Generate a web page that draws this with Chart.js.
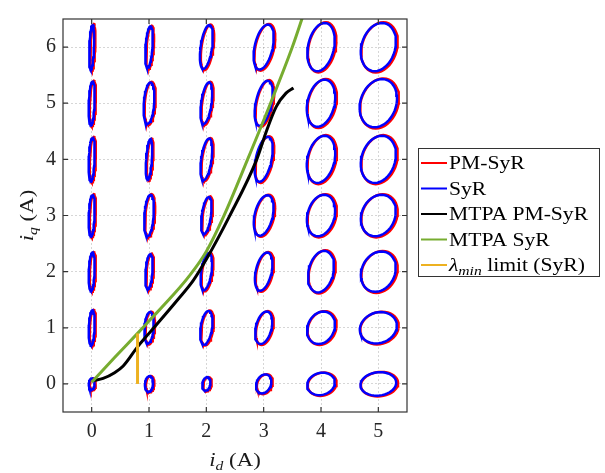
<!DOCTYPE html>
<html>
<head>
<meta charset="utf-8">
<script src="https://cdn.jsdelivr.net/npm/chart.js@4"></script>
<style>
  html, body { margin: 0; padding: 0; background: #fff; }
  #wrap { width: 605px; height: 473px; }
</style>
</head>
<body>
<div id="wrap"><canvas id="chart"></canvas></div>
<script>
// grid of operating points (A)
const idGrid = [0, 1, 2, 3, 4, 5];
const iqGrid = [0, 1, 2, 3, 4, 5, 6];
const xTicks = [0, 1, 2, 3, 4, 5];
const yTicks = [0, 1, 2, 3, 4, 5, 6];

// half-width / half-height of each current loop (rows = iq, cols = id)
const loopRx = [
  [0.05, 0.07, 0.07, 0.13, 0.24, 0.31],
  [0.05, 0.08, 0.10, 0.14, 0.24, 0.32],
  [0.05, 0.06, 0.09, 0.14, 0.22, 0.30],
  [0.05, 0.08, 0.08, 0.16, 0.24, 0.30],
  [0.05, 0.05, 0.09, 0.14, 0.24, 0.30],
  [0.05, 0.09, 0.09, 0.14, 0.24, 0.32],
  [0.04, 0.06, 0.10, 0.16, 0.23, 0.30]
];
const loopRy = [
  [0.10, 0.14, 0.12, 0.17, 0.20, 0.21],
  [0.31, 0.28, 0.30, 0.29, 0.29, 0.28],
  [0.34, 0.31, 0.33, 0.34, 0.37, 0.36],
  [0.37, 0.37, 0.33, 0.36, 0.37, 0.37],
  [0.39, 0.36, 0.37, 0.40, 0.42, 0.42],
  [0.39, 0.37, 0.37, 0.40, 0.42, 0.43],
  [0.40, 0.37, 0.39, 0.40, 0.43, 0.43]
];
// how far the loops lean to the right (x shift per unit of y), per id column
const loopLean = [0.04, 0.07, 0.13, 0.18, 0.15, 0.15];

// MTPA trajectories
const mtpaPmId = [0.03, 0.2, 0.4, 0.55, 0.8, 1.0, 1.5, 1.77, 2.0, 2.4, 2.88, 3.04, 3.22, 3.39, 3.52];
const mtpaPmIq = [0.06, 0.1, 0.2, 0.32, 0.66, 0.9, 1.5, 1.84, 2.22, 2.98, 4.0, 4.48, 4.94, 5.18, 5.27];
const mtpaSyrId = [0.0, 0.4, 0.8, 1.0, 1.4, 1.7, 2.0, 2.3, 2.72, 3.12, 3.5, 3.7];
const mtpaSyrIq = [0.03, 0.47, 0.9, 1.12, 1.56, 1.92, 2.36, 2.98, 4.0, 5.0, 6.0, 6.6];
// lambda_min limit for SyR
const lamId = [0.8, 0.8];
const lamIq = [0.0, 0.9];

function loopTrace(scale, dx, dy) {
    const pts = [];
    iqGrid.forEach((iq, r) => {
        idGrid.forEach((id, c) => {
            const rx = loopRx[r][c] * scale, ry = loopRy[r][c] * scale;
            for (let k = 0; k <= 40; k++) {
                const t = 2 * Math.PI * k / 40;
                pts.push({
                    x: id + dx + rx * Math.cos(t) + loopLean[c] * ry * Math.sin(t),
                    y: iq + dy + ry * Math.sin(t)
                });
            }
            pts.push({ x: id, y: null });
        });
    });
    return pts;
}

const toXY = (xs, ys) => xs.map((x, i) => ({ x: x, y: ys[i] }));

const SERIF = "'Liberation Serif', 'Times New Roman', serif";
const STRETCH = 1.2;

function drawRich(ctx, parts, x, y, align) {
    let w = 0;
    parts.forEach(p => { ctx.font = p.font; w += ctx.measureText(p.t).width; });
    ctx.save();
    ctx.translate(x, y);
    ctx.scale(STRETCH, 1);
    let cx = align === 'center' ? -w / 2 : 0;
    ctx.textAlign = 'left';
    ctx.textBaseline = 'alphabetic';
    parts.forEach(p => {
        ctx.font = p.font;
        ctx.fillText(p.t, cx, p.dy || 0);
        cx += ctx.measureText(p.t).width;
    });
    ctx.restore();
}

const it = size => 'italic ' + size + 'px ' + SERIF;
const rm = size => size + 'px ' + SERIF;

const framePlugin = {
    id: 'frame',
    afterDatasetsDraw(chart) {
        const { ctx, chartArea: a, scales } = chart;
        ctx.save();
        ctx.strokeStyle = '#333333';
        ctx.lineWidth = 1.2;
        ctx.strokeRect(a.left, a.top, a.right - a.left, a.bottom - a.top);
        ctx.beginPath();
        xTicks.forEach(v => {
            const px = scales.x.getPixelForValue(v);
            ctx.moveTo(px, a.bottom); ctx.lineTo(px, a.bottom - 5);
            ctx.moveTo(px, a.top); ctx.lineTo(px, a.top + 5);
        });
        yTicks.forEach(v => {
            const py = scales.y.getPixelForValue(v);
            ctx.moveTo(a.left, py); ctx.lineTo(a.left + 5, py);
            ctx.moveTo(a.right, py); ctx.lineTo(a.right - 5, py);
        });
        ctx.stroke();
        ctx.restore();
    },
    afterDraw(chart) {
        const { ctx, chartArea: a } = chart;
        ctx.save();
        ctx.fillStyle = '#1a1a1a';
        // axis titles
        drawRich(ctx, [
            { t: 'i', font: it(19) },
            { t: 'd', font: it(13), dy: 4 },
            { t: ' (A)', font: rm(19) }
        ], (a.left + a.right) / 2, 466, 'center');
        ctx.save();
        ctx.translate(33, (a.top + a.bottom) / 2);
        ctx.rotate(-Math.PI / 2);
        drawRich(ctx, [
            { t: 'i', font: it(19) },
            { t: 'q', font: it(13), dy: 4 },
            { t: ' (A)', font: rm(19) }
        ], 0, 0, 'center');
        ctx.restore();

        // legend
        const bx = 418.5, by = 148.5, bw = 181, bh = 128;
        ctx.fillStyle = '#ffffff';
        ctx.fillRect(bx, by, bw, bh);
        ctx.strokeStyle = '#333333';
        ctx.lineWidth = 1;
        ctx.strokeRect(bx, by, bw, bh);
        const rowY = [163, 188.5, 214, 239.5, 265];
        chart.data.datasets.forEach((ds, i) => {
            const y = rowY[i];
            ctx.strokeStyle = ds.borderColor;
            ctx.lineWidth = 2;
            ctx.beginPath();
            ctx.moveTo(421, y); ctx.lineTo(447, y);
            ctx.stroke();
            ctx.fillStyle = '#000000';
            let parts;
            if (ds.label.startsWith('λ')) {
                parts = [
                    { t: 'λ', font: it(18) },
                    { t: 'min', font: it(13), dy: 4 },
                    { t: ds.label.replace('λmin', ''), font: rm(18) }
                ];
            } else {
                parts = [{ t: ds.label, font: rm(18) }];
            }
            drawRich(ctx, parts, 449, y + 6, 'left');
        });
        ctx.restore();
    }
};

const ctx = document.getElementById('chart').getContext('2d');
new Chart(ctx, {
    type: 'scatter',
    data: {
        datasets: [
            {
                label: 'PM-SyR',
                data: loopTrace(1.04, 0.02, -0.005),
                borderColor: '#ff0000',
                showLine: true, pointRadius: 0, borderWidth: 2.5, order: 5
            },
            {
                label: 'SyR',
                data: loopTrace(1.0, 0, 0),
                borderColor: '#0000ff',
                showLine: true, pointRadius: 0, borderWidth: 2.5, order: 4
            },
            {
                label: 'MTPA PM-SyR',
                data: toXY(mtpaPmId, mtpaPmIq),
                borderColor: '#000000',
                showLine: true, pointRadius: 0, borderWidth: 3,
                cubicInterpolationMode: 'monotone', order: 2
            },
            {
                label: 'MTPA SyR',
                data: toXY(mtpaSyrId, mtpaSyrIq),
                borderColor: '#77ac30',
                showLine: true, pointRadius: 0, borderWidth: 3,
                cubicInterpolationMode: 'monotone', order: 1
            },
            {
                label: 'λmin limit (SyR)',
                data: toXY(lamId, lamIq),
                borderColor: '#edb120',
                showLine: true, pointRadius: 0, borderWidth: 3, order: 0
            }
        ]
    },
    options: {
        responsive: true,
        maintainAspectRatio: false,
        animation: false,
        layout: { padding: { left: 0, right: 198, top: 12, bottom: 0 } },
        plugins: {
            legend: { display: false },
            tooltip: { enabled: false }
        },
        scales: {
            x: {
                type: 'linear',
                min: -0.5, max: 5.5,
                afterBuildTicks: s => { s.ticks = xTicks.map(v => ({ value: v })); },
                afterFit: s => { s.height = 61; },
                grid: { color: 'rgba(0,0,0,0.16)', drawTicks: false },
                border: { display: false, dash: [2, 2] },
                ticks: { padding: 8, color: '#262626', font: { family: SERIF, size: 20 } }
            },
            y: {
                type: 'linear',
                min: -0.5, max: 6.5,
                afterBuildTicks: s => { s.ticks = yTicks.map(v => ({ value: v })); },
                afterFit: s => { s.width = 63; },
                grid: { color: 'rgba(0,0,0,0.16)', drawTicks: false },
                border: { display: false, dash: [2, 2] },
                ticks: { padding: 7, color: '#262626', font: { family: SERIF, size: 20 } }
            }
        }
    },
    plugins: [framePlugin]
});
</script>
</body>
</html>
